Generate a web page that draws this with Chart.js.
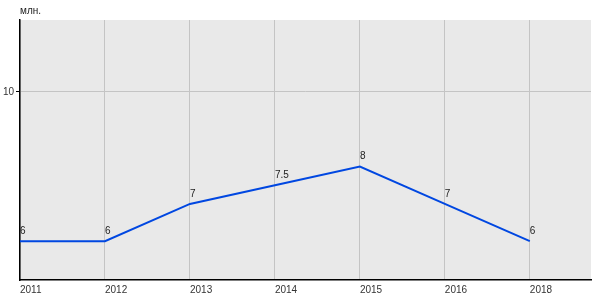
<!DOCTYPE html>
<html>
<head>
<meta charset="utf-8">
<script src="https://cdn.jsdelivr.net/npm/chart.js@4/dist/chart.umd.min.js"></script>
<style>
  html, body { margin: 0; padding: 0; background: #fff; }
  #wrap { width: 600px; height: 300px; }
</style>
</head>
<body>
<div id="wrap"><canvas id="chart"></canvas></div>
<script>
// years on the axis (2017 is missing in the source)
const years = ['2011', '2012', '2013', '2014', '2015', '2016', '2018'];
const values = [6, 6, 7, 7.5, 8, 7, 6];
const yTicks = [10];
const unitLabel = 'млн.';

// gray plot background
const plotBg = {
    id: 'plotBg',
    beforeDraw(chart) {
        const { ctx, chartArea: a } = chart;
        ctx.save();
        ctx.fillStyle = '#e9e9e9';
        ctx.fillRect(a.left, a.top, a.right - a.left, a.bottom - a.top);
        ctx.restore();
    }
};

// value labels + unit caption
const labelsPlugin = {
    id: 'labelsPlugin',
    afterDatasetsDraw(chart) {
        const { ctx, chartArea: a } = chart;
        const meta = chart.getDatasetMeta(0);
        ctx.save();
        ctx.font = '10px Arial, "Liberation Sans", sans-serif';
        ctx.fillStyle = '#222';
        ctx.textAlign = 'left';
        ctx.textBaseline = 'bottom';
        meta.data.forEach((pt, i) => {
            ctx.fillText(String(values[i]), pt.x, pt.y - 5);
        });
        ctx.textBaseline = 'middle';
        ctx.fillText(unitLabel, a.left, a.top - 9);
        ctx.restore();
    }
};

const points = values.map((v, i) => ({ x: i, y: v }));

new Chart(document.getElementById('chart'), {
    type: 'line',
    data: {
        datasets: [{
            data: points,
            borderColor: '#0047e1',
            borderWidth: 2,
            pointRadius: 0,
            tension: 0,
            fill: false
        }]
    },
    options: {
        responsive: true,
        maintainAspectRatio: false,
        animation: false,
        layout: { padding: { top: 20, right: 9, left: 0, bottom: 0 } },
        plugins: {
            legend: { display: false },
            tooltip: { enabled: false }
        },
        scales: {
            x: {
                type: 'linear',
                min: 0,
                max: 6.72,
                afterBuildTicks(axis) {
                    axis.ticks = years.map((_, i) => ({ value: i }));
                },
                afterFit(axis) { axis.height = 20; },
                ticks: {
                    align: 'start',
                    padding: 4,
                    color: '#333',
                    font: { size: 10, family: 'Arial, "Liberation Sans", sans-serif' },
                    callback: (v) => years[v]
                },
                grid: { color: '#c4c4c4', drawTicks: false, lineWidth: 1 },
                border: { color: '#000', width: 1.5 }
            },
            y: {
                min: 4.96,
                max: 11.93,
                afterBuildTicks(axis) {
                    axis.ticks = yTicks.map(v => ({ value: v }));
                },
                afterFit(axis) { axis.width = 20; },
                ticks: {
                    padding: 2,
                    color: '#333',
                    font: { size: 10, family: 'Arial, "Liberation Sans", sans-serif' }
                },
                grid: { color: '#c4c4c4', tickColor: '#000', tickLength: 4, lineWidth: 1 },
                border: { color: '#000', width: 1.5 }
            }
        }
    },
    plugins: [plotBg, labelsPlugin]
});
</script>
</body>
</html>
